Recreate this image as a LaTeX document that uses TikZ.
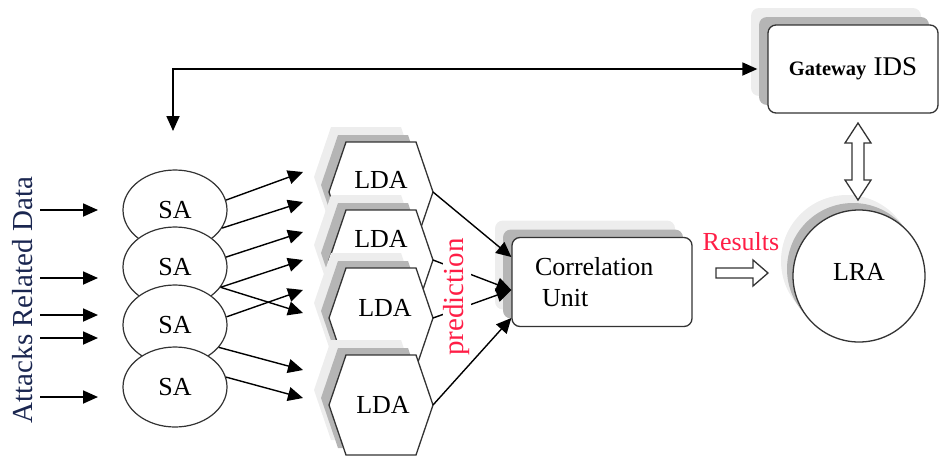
\documentclass[tikz,border=0pt]{standalone}
\usepackage{fontspec}
\setmainfont{Liberation Serif}
\usetikzlibrary{arrows.meta,shadows,shapes.geometric,calc}

\definecolor{ink}{HTML}{333333}
\definecolor{shadelight}{HTML}{EDEDED}
\definecolor{shadedark}{HTML}{B5B5B5}
\definecolor{alert}{HTML}{FF1E46}
\definecolor{navy}{HTML}{1A2650}

\def\hexoutline{(-35,-50) -- (35,-50) -- (52,0) -- (35,50) -- (-35,50) -- (-52,0) -- cycle}

\tikzset{
  flow/.style={line width=1.8pt, -{Triangle[length=15pt,width=13pt]}},
  fine/.style={line width=1.4pt, -{Triangle[length=15pt,width=14pt]}},
  big/.style={font=\fontsize{26}{31}\selectfont},
  boxshadow/.style={
    general shadow={fill=shadelight, shadow xshift=-17pt, shadow yshift=17pt},
    general shadow={fill=shadedark, shadow xshift=-9pt, shadow yshift=8pt}},
  unitbox/.style={draw=ink, line width=1.3pt, fill=white, rounded corners=8pt, boxshadow},
  saball/.style={ellipse, draw=ink, line width=1.2pt, fill=white,
    minimum width=104pt, minimum height=80pt, inner sep=0pt,
    font=\fontsize{26}{30}\selectfont},
  hollow/.style={draw=ink, line width=1.3pt, fill=white},
  ldahex/.pic={
    \fill[shadelight, shift={(-15,-15)}] \hexoutline;
    \fill[shadedark, shift={(-8,-7)}] \hexoutline;
    \draw[ink, line width=1.3pt, fill=white] \hexoutline;
    \coordinate (-r) at (52,0);
  }
}

\begin{document}
\begin{tikzpicture}[x=1pt,y=-1pt]
\useasboundingbox (0,0) rectangle (942,461);

% input label
\node[rotate=90, text=navy, font=\fontsize{29}{34}\selectfont] (attacks) at (23,300) {Attacks Related Data};

% sensor agents
\node[saball] (sa1) at (175,210) {SA};
\node[saball] (sa2) at (175,267) {SA};
\node[saball] (sa3) at (175,325) {SA};
\node[saball] (sa4) at (175,387) {SA};

% incoming data
\foreach \i/\y in {1/210,2/278,3/315,4/338,5/397}{
  \coordinate (in\i) at (40,\y);
  \coordinate (to\i) at (98,\y);
  \draw[flow] (in\i) -- (to\i);
}

% local detection agents
\pic (hx1) at (381,192) {ldahex};
\node[big] (lda1) at (381,180) {LDA};
\pic (hx2) at (381,260) {ldahex};
\node[big] (lda2) at (381,239) {LDA};
\pic (hx3) at (381,318) {ldahex};
\node[big] (lda3) at (385,308) {LDA};
\pic (hx4) at (381,405) {ldahex};
\node[big] (lda4) at (383,405) {LDA};

% SA to LDA links
\foreach \i/\y in {1/172,2/202,3/232,4/260,5/313,6/290,7/370,8/398}
  \coordinate (t\i) at (303,\y);
\draw[fine] (sa1.11) -- (t1);
\draw[fine] (sa1.-21) -- (t2);
\draw[fine] (sa2.11) -- (t3);
\draw[fine] (sa2.-24) -- (t4);
\draw[fine] (sa2.-24) -- (t5);
\draw[fine] (sa3.9) -- (t6);
\draw[fine] (sa3.-27) -- (t7);
\draw[fine] (sa4.11) -- (t8);

% correlation unit
\node[unitbox, minimum width=180pt, minimum height=89pt, big, align=left, text width=134pt] (cu) at (602,282)
  {Correlation\\\hspace{7pt}Unit};

\draw[fine] (hx1-r) -- ([yshift=25pt]cu.west);
\draw[fine] (hx2-r) -- ([yshift=-8pt]cu.west);
\draw[fine] (hx3-r) -- ([yshift=-8pt]cu.west);
\draw[fine] (hx4-r) -- ([yshift=-36pt]cu.west);

\node[rotate=90, text=alert, fill=white, inner sep=1pt, font=\fontsize{29}{34}\selectfont] (pred) at (457,297) {prediction};

% gateway IDS and feedback loop
\node[unitbox, minimum width=170pt, minimum height=88pt] (gw) at (853,69)
  {\fontsize{20.5}{24}\selectfont\bfseries Gateway\hspace{2pt} \fontsize{27}{31}\selectfont\mdseries IDS};
\coordinate (fb) at (173,131);
\draw[line width=1.8pt, {Triangle[length=15pt,width=13pt]}-{Triangle[length=15pt,width=13pt]}, shorten >=10pt]
  (fb) |- (gw.west);

% local response agent
\node[circle, draw=ink, line width=1.3pt, fill=white, minimum size=132pt, inner sep=0pt, big,
  general shadow={fill=shadelight, shadow xshift=-12pt, shadow yshift=15pt},
  general shadow={fill=shadedark, shadow xshift=-6pt, shadow yshift=7pt}] (lra) at (859,276) {};
\node[big] (lratext) at (859,272) {LRA};

% results arrow
\node[text=alert, big] (res) at (741,242) {Results};
\coordinate (r0) at (716,273);
\draw[hollow] (r0) ++(0,-5) -- ++(37,0) -- ++(0,-8) -- (768,273) -- (753,286) -- ++(0,-8) -- ++(-37,0) -- cycle;

% exchange between gateway and LRA
\coordinate (x0) at (858,123);
\draw[hollow] (x0) -- (871,143) -- (864,143) -- (864,180) -- (871,180) -- (858,200)
  -- (845,180) -- (852,180) -- (852,143) -- (845,143) -- cycle;

\end{tikzpicture}
\end{document}
